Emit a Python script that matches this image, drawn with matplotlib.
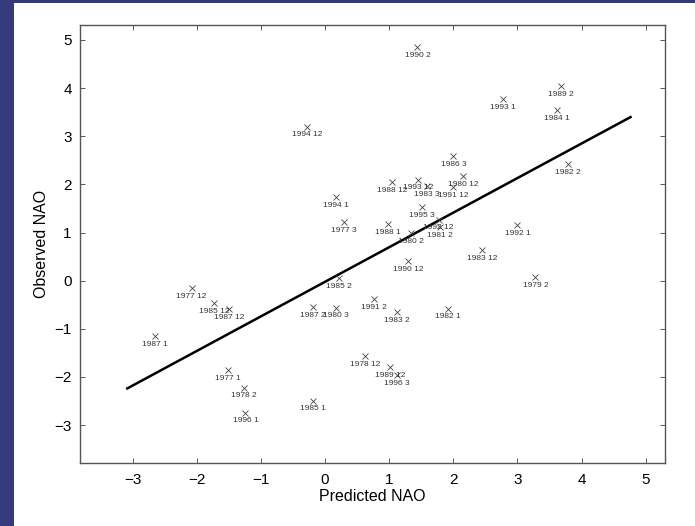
import matplotlib
matplotlib.use("Agg")
import matplotlib.pyplot as plt
from matplotlib.patches import Rectangle

plt.rcParams["font.family"] = ["Liberation Sans", "DejaVu Sans"]

# Predicted vs observed winter NAO index, labelled "year month"
labels = [
    "1990 2", "1989 2", "1993 1", "1984 1", "1994 12", "1986 3", "1982 2",
    "1980 12", "1988 12", "1993 12", "1983 3", "1991 12", "1994 1", "1995 3",
    "1977 3", "1988 1", "1992 12", "1981 2", "1980 2", "1992 1", "1983 12",
    "1990 12", "1979 2", "1985 2", "1977 12", "1985 12", "1987 12", "1987 2",
    "1980 3", "1991 2", "1983 2", "1982 1", "1987 1", "1978 12", "1989 12",
    "1996 3", "1977 1", "1978 2", "1985 1", "1996 1",
]
predicted = [
    1.44, 3.68, 2.78, 3.62, -0.28, 2.00, 3.78,
    2.15, 1.04, 1.45, 1.59, 2.00, 0.17, 1.51,
    0.30, 0.98, 1.77, 1.79, 1.34, 3.00, 2.45,
    1.29, 3.28, 0.21, -2.08, -1.73, -1.50, -0.19,
    0.17, 0.76, 1.12, 1.92, -2.65, 0.62, 1.01,
    1.12, -1.51, -1.26, -0.19, -1.24,
]
observed = [
    4.86, 4.04, 3.77, 3.54, 3.20, 2.59, 2.42,
    2.18, 2.04, 2.10, 1.97, 1.94, 1.74, 1.52,
    1.22, 1.18, 1.27, 1.11, 0.98, 1.16, 0.64,
    0.40, 0.07, 0.05, -0.15, -0.47, -0.59, -0.54,
    -0.56, -0.38, -0.66, -0.58, -1.15, -1.57, -1.79,
    -1.96, -1.86, -2.22, -2.49, -2.74,
]

# regression line end points
fit_x = [-3.10, 4.78]
fit_y = [-2.25, 3.41]

ticks = [-3, -2, -1, 0, 1, 2, 3, 4, 5]

fig = plt.figure(figsize=(6.95, 5.26), dpi=100)
fig.patch.set_facecolor("white")

# dark blue slide border on the left and top
blue = "#363a7c"
fig.patches.append(Rectangle((0, 0), 14 / 695, 1, transform=fig.transFigure,
                             facecolor=blue, edgecolor="none", zorder=-1))
fig.patches.append(Rectangle((0, 1 - 3 / 526), 1, 3 / 526, transform=fig.transFigure,
                             facecolor=blue, edgecolor="none", zorder=-1))

ax = fig.add_axes([80 / 695, 1 - 462.7 / 526, 585 / 695, 437.7 / 526])

ax.plot(fit_x, fit_y, color="black", lw=1.8, solid_capstyle="butt")
ax.plot(predicted, observed, ls="none", marker="x", ms=4.2, mew=0.6, color="#444444")
for px, py, lab in zip(predicted, observed, labels):
    ax.annotate(lab, (px, py), xytext=(0, -6), textcoords="offset points",
                ha="center", va="center", fontsize=6, color="#333333")

ax.set_xlim(-3.82, 5.30)
ax.set_ylim(-3.78, 5.31)
ax.set_xticks(ticks)
ax.set_yticks(ticks)
ax.set_xticklabels([str(t).replace("-", "\u2212") for t in ticks])
ax.set_yticklabels([str(t).replace("-", "\u2212") for t in ticks])

ax.tick_params(direction="in", length=3.5, width=0.7, color="#555555",
               labelsize=11, top=True, right=True)
ax.tick_params(axis="x", pad=7.5)
ax.tick_params(axis="y", pad=6)
for sp in ax.spines.values():
    sp.set_color("#555555")
    sp.set_linewidth(1.0)

ax.set_xlabel("Predicted NAO", fontsize=11.5, labelpad=1)
ax.set_ylabel("Observed NAO", fontsize=11.5, labelpad=4)

fig.savefig("out.png", dpi=100)
